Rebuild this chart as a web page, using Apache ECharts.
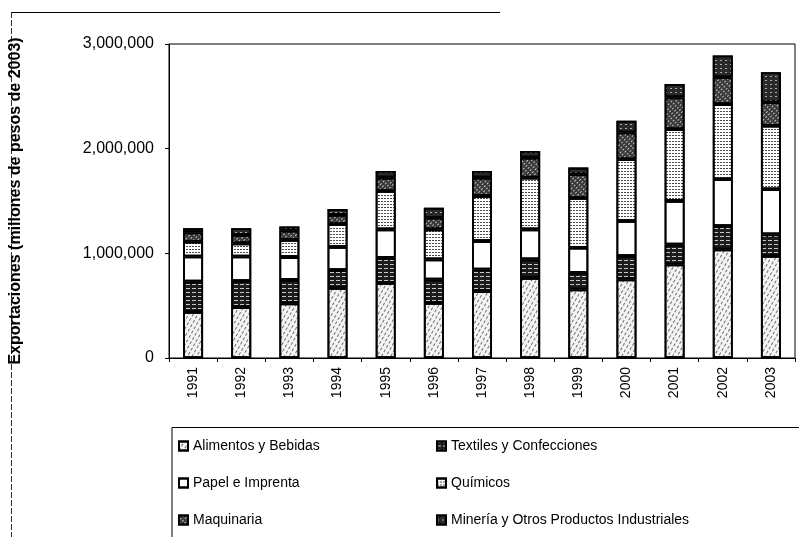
<!DOCTYPE html>
<html>
<head>
<meta charset="utf-8">
<script src="https://cdn.jsdelivr.net/npm/echarts@6/dist/echarts.min.js"></script>
<style>
  html, body { margin: 0; padding: 0; background: #fff; }
  #chart { width: 799px; height: 537px; }
</style>
</head>
<body>
<div id="chart"></div>
<script>
// Exportaciones industriales por sector, millones de pesos de 2003
const years = ['1991','1992','1993','1994','1995','1996','1997','1998','1999','2000','2001','2002','2003'];
const alimentos  = [440000, 485000, 522000, 670000, 718000, 526000, 638000, 766000, 655000, 750000, 894000, 1037000, 974000];
const textiles   = [290000, 250000, 224000, 170000, 239000, 224000, 208000, 176000, 159000, 224000, 191000, 224000, 207000];
const papel      = [240000, 235000, 218000, 220000, 272000, 192000, 271000, 287000, 239000, 335000, 416000, 447000, 431000];
const quimicos   = [140000, 125000, 165000, 220000, 367000, 287000, 431000, 494000, 476000, 590000, 686000, 718000, 607000];
const maquinaria = [90000, 80000, 88000, 86000, 127000, 111000, 175000, 191000, 227000, 256000, 303000, 256000, 224000];
const mineria    = [40000, 65000, 40000, 57000, 64000, 96000, 64000, 64000, 63000, 112000, 128000, 208000, 287000];
const yTicks = [0, 1000000, 2000000, 3000000];

const names = {
  alim: 'Alimentos y Bebidas',
  text: 'Textiles y Confecciones',
  pap: 'Papel e Imprenta',
  quim: 'Químicos',
  maq: 'Maquinaria',
  min: 'Minería y Otros Productos Industriales'
};

function seg(name, data, fill, decal) {
  return {
    name: name,
    type: 'bar',
    stack: 'total',
    data: data,
    barWidth: 20,
    itemStyle: { color: fill, borderColor: '#000', borderWidth: 1.8, decal: decal },
    emphasis: { disabled: true }
  };
}

const chart = echarts.init(document.getElementById('chart'), null, { renderer: 'canvas' });
const font = 'Liberation Sans, Arial, sans-serif';

chart.setOption({
  animation: false,
  aria: { enabled: true, decal: { show: true } },
  grid: { left: 167, right: 4, top: 44, bottom: 179, show: true, borderColor: '#000', borderWidth: 1 },
  xAxis: {
    type: 'category',
    data: years,
    axisLine: { lineStyle: { color: '#000', width: 1 } },
    axisTick: { show: true, length: 4, lineStyle: { color: '#000' } },
    axisLabel: { rotate: 90, margin: 9, color: '#000', fontSize: 14, fontFamily: font }
  },
  yAxis: {
    type: 'value',
    min: yTicks[0],
    max: yTicks[yTicks.length - 1],
    interval: yTicks[1] - yTicks[0],
    name: 'Exportaciones (millones de pesos de 2003)',
    nameLocation: 'middle',
    nameGap: 145,
    nameTextStyle: { color: '#000', fontSize: 16, fontWeight: 'bold', fontFamily: font },
    axisLine: { show: true, lineStyle: { color: '#000', width: 1 } },
    axisTick: { show: true, length: 4, lineStyle: { color: '#000' } },
    splitLine: { show: false },
    axisLabel: {
      margin: 15, color: '#000', fontSize: 16, fontFamily: font,
      formatter: v => v.toLocaleString('en-US')
    }
  },
  legend: [
    {
      data: [names.alim, names.pap, names.maq],
      orient: 'vertical', left: 173, top: 434, itemGap: 23,
      itemWidth: 9, itemHeight: 9, icon: 'rect',
      textStyle: { color: '#000', fontSize: 14, fontFamily: font }
    },
    {
      data: [names.text, names.quim, names.min],
      orient: 'vertical', left: 431, top: 434, itemGap: 23,
      itemWidth: 9, itemHeight: 9, icon: 'rect',
      textStyle: { color: '#000', fontSize: 14, fontFamily: font }
    }
  ],
  graphic: [
    { type: 'rect', shape: { x: 172, y: 427.5, width: 650, height: 140 },
      style: { fill: 'none', stroke: '#000', lineWidth: 1 }, silent: true },
    { type: 'line', shape: { x1: 11, y1: 12.5, x2: 500, y2: 12.5 },
      style: { stroke: '#000', lineWidth: 1 }, silent: true },
    { type: 'line', shape: { x1: 11.5, y1: 12, x2: 11.5, y2: 537 },
      style: { stroke: '#333', lineWidth: 1, lineDash: [6, 2] }, silent: true }
  ],
  series: [
    seg(names.alim, alimentos, '#f4f4f4',
      { symbol: 'rect', symbolSize: 1, color: 'rgba(0,0,0,0.55)', dashArrayX: [[1, 3]], dashArrayY: [3, 2] }),
    seg(names.text, textiles, '#1c1c1c',
      { symbol: 'rect', symbolSize: 1, color: 'rgba(255,255,255,0.75)', dashArrayX: [[4, 2]], dashArrayY: [1, 3] }),
    seg(names.pap, papel, '#ffffff', { symbol: 'none' }),
    seg(names.quim, quimicos, '#ffffff',
      { symbol: 'rect', symbolSize: 1, color: 'rgba(0,0,0,0.7)', dashArrayX: [[2, 1]], dashArrayY: [1, 2] }),
    seg(names.maq, maquinaria, '#3a3a3a',
      { symbol: 'rect', symbolSize: 1, color: 'rgba(255,255,255,0.7)', dashArrayX: [[1, 2]], dashArrayY: [2, 2] }),
    seg(names.min, mineria, '#2a2a2a',
      { symbol: 'rect', symbolSize: 1, color: 'rgba(255,255,255,0.6)', dashArrayX: [[2, 3]], dashArrayY: [1, 3] })
  ]
});
</script>
</body>
</html>
